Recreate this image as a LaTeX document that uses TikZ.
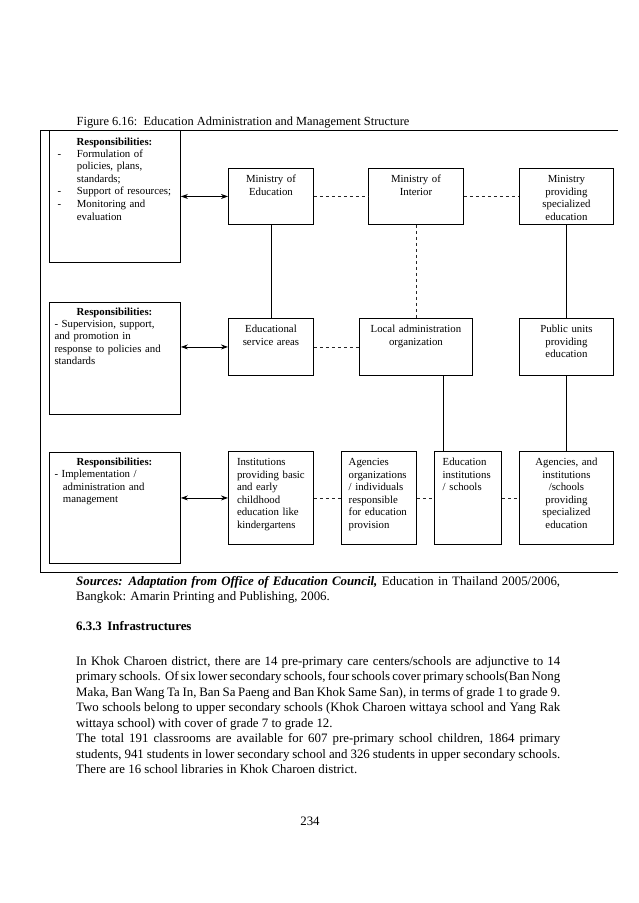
\documentclass[tikz,border=0pt]{standalone}
\usepackage{fontspec}
\setmainfont{Liberation Serif}
\usetikzlibrary{arrows.meta,calc}
\setlength\parindent{0pt}
\hyphenpenalty=10000
\exhyphenpenalty=10000
\tolerance=3000
\emergencystretch=2em
\newcommand\dfont{\fontsize{10.8}{12.6}\selectfont}
\newcommand\bfont{\fontsize{12.86}{15.5}\selectfont}
\newcommand\tfont{\fontsize{12.4}{14}\selectfont}
\begin{document}
\begin{tikzpicture}[x=1pt,y=-1pt,
  box/.style={draw, line width=0.9pt, inner sep=0pt, anchor=north west},
  ctext/.style={inner sep=0pt, font=\dfont, align=center, anchor=base},
  ltext/.style={inner sep=0pt, font=\dfont, align=left, anchor=base west},
  para/.style={inner sep=0pt, font=\bfont, anchor=base west},
  frame/.style={line width=0.9pt},
  solidcon/.style={line width=0.8pt},
  dashcon/.style={line width=0.6pt, black!85, dash pattern=on 3.5pt off 2.5pt},
  biarrow/.style={line width=0.8pt, {Stealth[length=7pt,width=5pt]}-{Stealth[length=7pt,width=5pt]}},
]
\fill[white] (0,0) rectangle (638,903);
\useasboundingbox (0,0) rectangle (638,903);

% title
\node[para, font=\tfont] (title) at (76.5,125.5) {Figure 6.16:\ \ Education Administration and Management Structure};

% frame
\draw[frame] (618,130) -- (40,130) -- (40,572) -- (618,572);

% responsibility boxes
\node[box, minimum width=131pt, minimum height=132pt] (r1) at (49,130) {};
\node[box, minimum width=131pt, minimum height=112pt] (r2) at (49,302) {};
\node[box, minimum width=131pt, minimum height=111pt] (r3) at (49,452) {};

% organisation boxes
\node[box, minimum width=85pt, minimum height=56pt] (moe) at (228,168) {};
\node[box, minimum width=95pt, minimum height=56pt] (moi) at (368,168) {};
\node[box, minimum width=94pt, minimum height=56pt] (mpse) at (519,168) {};
\node[box, minimum width=85pt, minimum height=57pt] (esa) at (228,318) {};
\node[box, minimum width=113pt, minimum height=57pt] (la) at (359,318) {};
\node[box, minimum width=94pt, minimum height=57pt] (pu) at (519,318) {};
\node[box, minimum width=85pt, minimum height=93pt] (inst) at (228,451) {};
\node[box, minimum width=75pt, minimum height=93pt] (ao) at (341,451) {};
\node[box, minimum width=67pt, minimum height=93pt] (ei) at (434,451) {};
\node[box, minimum width=94pt, minimum height=93pt] (ai) at (519,451) {};

% responsibility texts
\node[ctext, font=\dfont\bfseries, text width=125pt] (r1h) at (114.5,145) {Responsibilities:};
\node[ltext, text width=120pt] (r1l) at (57.3,157) {\makebox[19.4pt][l]{-}Formulation of\\\hspace*{19.4pt}policies, plans,\\\hspace*{19.4pt}standards;\\\makebox[19.4pt][l]{-}Support of resources;\\\makebox[19.4pt][l]{-}Monitoring and\\\hspace*{19.4pt}evaluation};

\node[ctext, font=\dfont\bfseries, text width=125pt] (r2h) at (114.5,315) {Responsibilities:};
\node[ltext, text width=124pt] (r2l) at (54.3,327) {- Supervision, support,\\and promotion in\\response to policies and\\standards};

\node[ctext, font=\dfont\bfseries, text width=125pt] (r3h) at (114.5,465.5) {Responsibilities:};
\node[ltext, text width=124pt] (r3l) at (54.3,477.5) {- Implementation /\\\hspace*{8.4pt}administration and\\\hspace*{8.4pt}management};

% organisation texts
\node[ctext, text width=85pt] (moet) at ($(moe.north)+(0,14.5)$) {Ministry of\\Education};
\node[ctext, text width=95pt] (moit) at ($(moi.north)+(0,14.5)$) {Ministry of\\Interior};
\node[ctext, text width=94pt] (mpset) at ($(mpse.north)+(0,14.5)$) {Ministry\\providing\\specialized\\education};
\node[ctext, text width=85pt] (esat) at ($(esa.north)+(0,14.5)$) {Educational\\service areas};
\node[ctext, text width=113pt] (lat) at ($(la.north)+(0,14.5)$) {Local administration\\organization};
\node[ctext, text width=94pt] (put) at ($(pu.north)+(0,14.5)$) {Public units\\providing\\education};
\node[ltext, text width=76pt] (instt) at ($(inst.north west)+(8.8,14.5)$) {Institutions\\providing basic\\and early\\childhood\\education like\\kindergartens};
\node[ltext, text width=68pt] (aot) at ($(ao.north west)+(7.5,14.5)$) {Agencies\\organizations\\/ individuals\\responsible\\for education\\provision};
\node[ltext, text width=60pt] (eit) at ($(ei.north west)+(8.5,14.5)$) {Education\\institutions\\/ schools};
\node[ctext, text width=94pt] (ait) at ($(ai.north)+(0,14.5)$) {Agencies, and\\institutions\\/schools\\providing\\specialized\\education};

% arrows to responsibilities
\draw[biarrow] (r1.east |- moe.west) -- (moe.west);
\draw[biarrow] (r2.east |- esa.west) -- (esa.west);
\draw[biarrow] (r3.east |- inst.west) -- (inst.west);

% dashed links
\draw[dashcon] (moe.east) -- (moi.west);
\draw[dashcon] (moi.east) -- (mpse.west);
\draw[dashcon] (esa.east) -- (la.west);
\draw[dashcon] (inst.east) -- (ao.west);
\draw[dashcon] (ao.east) -- (ei.west);
\draw[dashcon] (ei.east) -- (ai.west);
\draw[dashcon] (moi.south) -- (la.north);

% solid links
\coordinate (lax) at (443.3,0);
\draw[solidcon] (moe.south) -- (esa.north);
\draw[solidcon] (mpse.south) -- (pu.north);
\draw[solidcon] (pu.south) -- (ai.north);
\draw[solidcon] (la.south -| lax) -- (ei.north -| lax);

% sources
\node[para, text width=484pt, align=justify] (src) at (76,585) {\textbf{\textit{Sources: Adaptation from Office of Education Council,}} Education in Thailand 2005/2006,\linebreak Bangkok: Amarin Printing and Publishing, 2006.};

\node[para, font=\bfont\bfseries] (sec) at (76,630.5) {6.3.3\hspace{5.5pt}Infrastructures};

\node[para, text width=484pt, align=justify] (body) at (76,665) {In Khok Charoen district, there are 14 pre-primary care centers/schools are adjunctive to 14\linebreak primary schools.\ \ Of six lower secondary schools, four schools cover primary schools(Ban Nong\linebreak Maka, Ban Wang Ta In, Ban Sa Paeng and Ban Khok Same San), in terms of grade 1 to grade 9.\linebreak Two schools belong to upper secondary schools (Khok Charoen wittaya school and Yang Rak\linebreak wittaya school) with cover of grade 7 to grade 12.\par The total 191 classrooms are available for 607 pre-primary school children, 1864 primary\linebreak students, 941 students in lower secondary school and 326 students in upper secondary schools.\linebreak There are 16 school libraries in Khok Charoen district.};

\node[para, anchor=base] (pg) at (310,825.5) {234};
\end{tikzpicture}
\end{document}
